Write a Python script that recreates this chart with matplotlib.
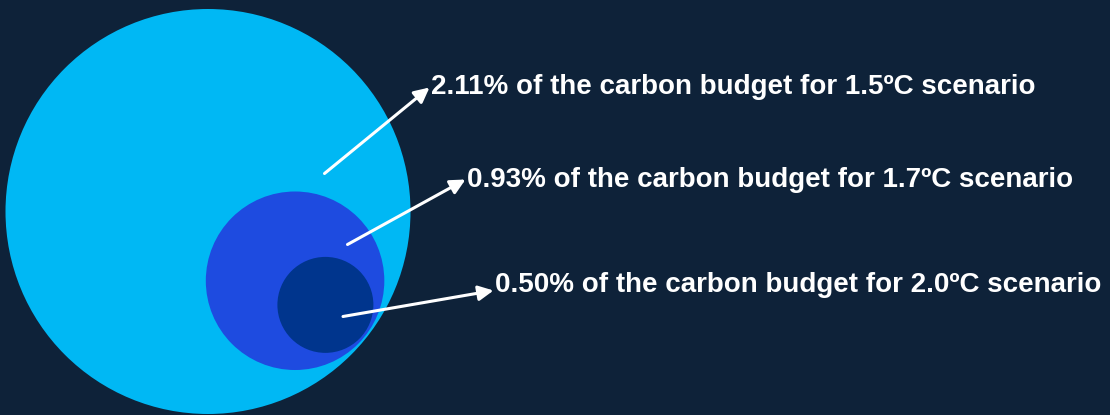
import numpy as np
import matplotlib
matplotlib.use("Agg")
import matplotlib.pyplot as plt
from matplotlib.patches import Circle

# Share of the carbon budget used, per warming scenario
scenarios = ["1.5ºC", "1.7ºC", "2.0ºC"]
shares = [2.11, 0.93, 0.50]
labels = [f"{s:.2f}% of the carbon budget for {c} scenario" for s, c in zip(shares, scenarios)]

bg = "#0E2239"
fills = ["#00B8F4", "#1E4BE0", "#00358D"]

W, H = 1110, 415
fig = plt.figure(figsize=(W / 100, H / 100), dpi=100, facecolor=bg)
ax = fig.add_axes([0, 0, 1, 1])
ax.set_facecolor(bg)
ax.set_xlim(0, W)
ax.set_ylim(H, 0)
ax.set_aspect("equal")
ax.axis("off")

# Radii proportional to the share; smaller circles nest toward the lower right
scale = 202.5 / shares[0]
big_c = np.array([208.0, 211.5])
direction = np.deg2rad(38.5)
unit = np.array([np.cos(direction), np.sin(direction)])
gaps = [0.0, 2.0, 4.5]
R = shares[0] * scale
for s, g, col in zip(shares, gaps, fills):
    r = s * scale
    c = big_c if s == shares[0] else big_c + unit * (R - r - g)
    ax.add_patch(Circle(c, r, facecolor=col, edgecolor="none"))

# Callout arrows and labels
tails = [(324.5, 173.5), (347.5, 244.5), (343.0, 316.5)]
tips = [(429.5, 87.5), (465.5, 179.5), (493.5, 290.5)]
baselines = [94.5, 186.5, 291.5]
for lab, t, p, b in zip(labels, tails, tips, baselines):
    ax.annotate("", xy=p, xytext=t,
                arrowprops=dict(arrowstyle="-|>,head_length=0.9,head_width=0.45",
                                color="white", lw=2.2, shrinkA=0, shrinkB=0))
    ax.text(p[0] + 1.5, b, lab, color="white", fontsize=20,
            fontweight="bold", family=["Liberation Sans", "DejaVu Sans"],
            ha="left", va="baseline")

fig.savefig("out.png", dpi=100, facecolor=bg)
